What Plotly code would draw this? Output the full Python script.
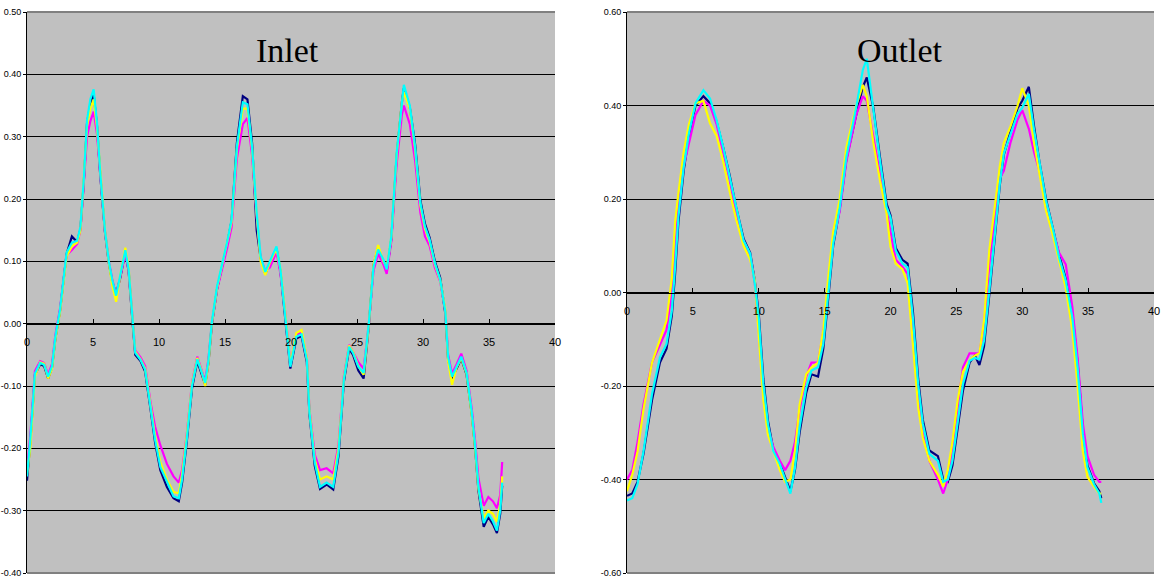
import plotly.graph_objects as go

# ---------------- Inlet data ----------------
IN_X = [0, 0.25, 0.6, 1.0, 1.3, 1.6, 1.9, 2.15, 2.5, 3.0,
        3.4, 3.8, 4.05, 4.3, 4.55, 4.8, 5.05, 5.3, 5.55, 5.9,
        6.2, 6.45, 6.75, 7.05, 7.45, 7.7, 7.95, 8.2, 8.6, 8.95,
        9.35, 9.7, 10.1, 10.6, 11.1, 11.5, 11.75, 12.1, 12.5, 12.9,
        13.25, 13.5, 13.75, 14.0, 14.4, 14.75, 15.15, 15.5, 15.9, 16.35,
        16.7, 17.05, 17.4, 17.7, 18.05, 18.4, 18.9, 19.2, 19.55, 19.95,
        20.4, 20.8, 21.2, 21.4, 21.8, 22.2, 22.7, 23.2, 23.6, 24.0,
        24.4, 24.7, 25.1, 25.5, 25.9, 26.25, 26.6, 27.0, 27.25, 27.6,
        28.0, 28.4, 28.55, 29.0, 29.4, 29.8, 30.15, 30.5, 30.9, 31.3,
        31.7, 31.9, 32.2, 32.55, 32.9, 33.3, 33.7, 33.95, 34.2, 34.6,
        34.95, 35.3, 35.6, 35.85, 36.0]

IN_NAVY = [-0.252, -0.190, -0.082, -0.065, -0.068, -0.088, -0.070, -0.024, 0.020, 0.112,
           0.140, 0.131, 0.152, 0.226, 0.322, 0.352, 0.368, 0.318, 0.238, 0.148,
           0.097, 0.068, 0.048, 0.072, 0.115, 0.084, 0.015, -0.050, -0.060, -0.077,
           -0.136, -0.190, -0.235, -0.262, -0.280, -0.285, -0.255, -0.190, -0.104, -0.060,
           -0.082, -0.098, -0.062, -0.002, 0.056, 0.088, 0.127, 0.165, 0.290, 0.365,
           0.360, 0.290, 0.150, 0.105, 0.080, 0.097, 0.121, 0.084, 0.015, -0.072,
           -0.024, -0.020, -0.062, -0.146, -0.228, -0.265, -0.258, -0.266, -0.212, -0.094,
           -0.040, -0.050, -0.075, -0.088, -0.002, 0.094, 0.122, 0.100, 0.084, 0.136,
           0.268, 0.355, 0.378, 0.347, 0.288, 0.198, 0.160, 0.138, 0.100, 0.074,
           0.015, -0.057, -0.088, -0.072, -0.056, -0.082, -0.146, -0.200, -0.268, -0.326,
           -0.310, -0.322, -0.336, -0.305, -0.260]

IN_MAGENTA = [-0.235, -0.180, -0.076, -0.060, -0.063, -0.082, -0.064, -0.018, 0.024, 0.110,
              0.118, 0.128, 0.150, 0.220, 0.300, 0.325, 0.340, 0.305, 0.235, 0.150,
              0.100, 0.072, 0.045, 0.074, 0.112, 0.086, 0.020, -0.043, -0.054, -0.068,
              -0.125, -0.165, -0.195, -0.225, -0.245, -0.255, -0.235, -0.178, -0.095, -0.053,
              -0.076, -0.092, -0.056, 0.000, 0.055, 0.085, 0.120, 0.155, 0.265, 0.320,
              0.330, 0.270, 0.172, 0.105, 0.085, 0.090, 0.115, 0.080, 0.020, -0.065,
              -0.018, -0.015, -0.055, -0.138, -0.210, -0.235, -0.232, -0.240, -0.195, -0.085,
              -0.034, -0.045, -0.062, -0.072, 0.000, 0.085, 0.112, 0.095, 0.080, 0.132,
              0.255, 0.335, 0.350, 0.320, 0.262, 0.178, 0.140, 0.125, 0.090, 0.068,
              0.020, -0.050, -0.080, -0.065, -0.048, -0.075, -0.138, -0.188, -0.248, -0.292,
              -0.278, -0.285, -0.296, -0.275, -0.222]

IN_YELLOW = [-0.240, -0.200, -0.085, -0.062, -0.064, -0.088, -0.072, -0.025, 0.018, 0.108,
             0.124, 0.130, 0.150, 0.228, 0.318, 0.345, 0.360, 0.315, 0.240, 0.152,
             0.098, 0.062, 0.035, 0.076, 0.122, 0.090, 0.020, -0.045, -0.057, -0.072,
             -0.130, -0.180, -0.222, -0.250, -0.270, -0.272, -0.242, -0.180, -0.097, -0.055,
             -0.078, -0.100, -0.062, 0.000, 0.058, 0.090, 0.128, 0.163, 0.280, 0.345,
             0.345, 0.280, 0.175, 0.100, 0.078, 0.098, 0.120, 0.088, 0.020, -0.066,
             -0.015, -0.010, -0.055, -0.140, -0.218, -0.250, -0.245, -0.250, -0.200, -0.088,
             -0.035, -0.045, -0.068, -0.082, 0.000, 0.095, 0.126, 0.100, 0.090, 0.138,
             0.270, 0.355, 0.372, 0.345, 0.280, 0.190, 0.152, 0.132, 0.095, 0.070,
             0.022, -0.060, -0.098, -0.070, -0.055, -0.080, -0.148, -0.200, -0.265, -0.312,
             -0.300, -0.305, -0.318, -0.290, -0.245]

IN_CYAN = [-0.245, -0.186, -0.080, -0.063, -0.066, -0.085, -0.068, -0.021, 0.022, 0.114,
           0.130, 0.133, 0.156, 0.231, 0.327, 0.360, 0.376, 0.323, 0.242, 0.151,
           0.100, 0.071, 0.045, 0.075, 0.118, 0.087, 0.018, -0.047, -0.058, -0.074,
           -0.133, -0.186, -0.230, -0.255, -0.277, -0.280, -0.250, -0.186, -0.100, -0.057,
           -0.079, -0.095, -0.058, 0.002, 0.060, 0.091, 0.130, 0.167, 0.284, 0.355,
           0.352, 0.284, 0.178, 0.108, 0.083, 0.100, 0.124, 0.087, 0.018, -0.069,
           -0.021, -0.017, -0.058, -0.143, -0.223, -0.262, -0.255, -0.262, -0.207, -0.090,
           -0.037, -0.047, -0.069, -0.079, 0.002, 0.091, 0.119, 0.103, 0.087, 0.140,
           0.273, 0.360, 0.383, 0.350, 0.284, 0.194, 0.156, 0.135, 0.097, 0.071,
           0.018, -0.053, -0.085, -0.069, -0.053, -0.079, -0.143, -0.196, -0.262, -0.320,
           -0.305, -0.317, -0.332, -0.300, -0.255]

# ---------------- Outlet data ----------------
OUT_X = [0, 0.4, 0.8, 1.25, 1.9, 2.5, 3.0, 3.4, 3.65, 3.9,
         4.3, 4.7, 5.2, 5.8, 6.3, 6.8, 7.3, 7.8, 8.3, 8.85,
         9.35, 9.7, 10.0, 10.35, 10.7, 11.1, 11.6, 12.0, 12.4, 12.75,
         13.1, 13.6, 14.0, 14.5, 14.9, 15.3, 15.65, 16.15, 16.65, 17.4,
         17.9, 18.2, 18.7, 19.2, 19.7, 20.0, 20.4, 20.9, 21.3, 21.7,
         22.1, 22.45, 22.95, 23.6, 24.0, 24.35, 24.7, 25.1, 25.5, 26.0,
         26.4, 26.75, 27.1, 27.5, 27.9, 28.3, 28.6, 29.1, 29.65, 30.0,
         30.5, 30.9, 31.3, 31.8, 32.3, 32.8, 33.3, 33.8, 34.2, 34.6,
         34.95, 35.45, 35.85, 36.0]

OUT_NAVY = [-0.435, -0.430, -0.405, -0.345, -0.230, -0.150, -0.120, -0.050, 0.040, 0.150,
            0.260, 0.335, 0.400, 0.420, 0.405, 0.365, 0.310, 0.250, 0.180, 0.115,
            0.085, 0.025, -0.045, -0.185, -0.275, -0.335, -0.365, -0.395, -0.425, -0.380,
            -0.300, -0.215, -0.175, -0.180, -0.120, -0.005, 0.100, 0.180, 0.285, 0.380,
            0.440, 0.460, 0.395, 0.290, 0.190, 0.165, 0.095, 0.070, 0.062, -0.040,
            -0.185, -0.272, -0.338, -0.350, -0.400, -0.405, -0.370, -0.290, -0.210, -0.150,
            -0.135, -0.155, -0.115, -0.005, 0.120, 0.230, 0.295, 0.345, 0.395, 0.410,
            0.440, 0.355, 0.280, 0.200, 0.142, 0.080, 0.030, -0.045, -0.150, -0.295,
            -0.370, -0.408, -0.425, -0.440]

OUT_MAGENTA = [-0.400, -0.380, -0.320, -0.240, -0.150, -0.110, -0.080, 0.000, 0.100, 0.180,
               0.270, 0.320, 0.380, 0.410, 0.400, 0.360, 0.300, 0.240, 0.165, 0.110,
               0.080, 0.020, -0.080, -0.215, -0.290, -0.330, -0.360, -0.380, -0.360, -0.320,
               -0.250, -0.180, -0.150, -0.150, -0.085, 0.020, 0.110, 0.175, 0.280, 0.380,
               0.420, 0.410, 0.330, 0.250, 0.175, 0.130, 0.070, 0.055, 0.040, -0.080,
               -0.225, -0.300, -0.360, -0.400, -0.430, -0.400, -0.330, -0.240, -0.160, -0.130,
               -0.130, -0.130, -0.070, 0.060, 0.160, 0.245, 0.260, 0.320, 0.370, 0.390,
               0.350, 0.300, 0.260, 0.190, 0.135, 0.085, 0.060, -0.030, -0.140, -0.280,
               -0.350, -0.390, -0.405, -0.405]

OUT_YELLOW = [-0.425, -0.390, -0.340, -0.250, -0.150, -0.100, -0.060, 0.030, 0.150, 0.212,
              0.300, 0.360, 0.405, 0.410, 0.362, 0.335, 0.280, 0.215, 0.155, 0.100,
              0.070, 0.026, -0.090, -0.230, -0.305, -0.339, -0.380, -0.405, -0.400, -0.340,
              -0.240, -0.175, -0.160, -0.150, -0.080, 0.040, 0.130, 0.200, 0.310, 0.400,
              0.444, 0.420, 0.320, 0.240, 0.170, 0.098, 0.062, 0.050, 0.020, -0.110,
              -0.245, -0.310, -0.360, -0.390, -0.415, -0.380, -0.320, -0.230, -0.170, -0.145,
              -0.135, -0.130, -0.060, 0.090, 0.180, 0.270, 0.320, 0.355, 0.400, 0.437,
              0.400, 0.320, 0.255, 0.176, 0.125, 0.065, 0.010, -0.080, -0.200, -0.340,
              -0.395, -0.415, -0.430, -0.430]

OUT_CYAN = [-0.445, -0.440, -0.410, -0.340, -0.217, -0.139, -0.110, -0.040, 0.054, 0.161,
            0.268, 0.340, 0.405, 0.433, 0.415, 0.369, 0.311, 0.247, 0.176, 0.111,
            0.083, 0.019, -0.053, -0.195, -0.281, -0.339, -0.367, -0.397, -0.430, -0.375,
            -0.289, -0.204, -0.167, -0.160, -0.110, 0.004, 0.104, 0.182, 0.290, 0.397,
            0.476, 0.500, 0.390, 0.283, 0.183, 0.161, 0.090, 0.062, 0.054, -0.053,
            -0.196, -0.280, -0.345, -0.360, -0.405, -0.400, -0.360, -0.280, -0.196, -0.146,
            -0.140, -0.143, -0.103, 0.004, 0.126, 0.233, 0.297, 0.340, 0.383, 0.395,
            0.425, 0.347, 0.276, 0.197, 0.140, 0.075, 0.026, -0.053, -0.160, -0.303,
            -0.374, -0.410, -0.430, -0.450]

X_TICKS = [0, 5, 10, 15, 20, 25, 30, 35, 40]
X_TICKTEXT = ["0", "5", "10", "15", "20", "25", "30", "35", "40"]
IN_Y_TICKS = [-0.4, -0.3, -0.2, -0.1, 0.0, 0.1, 0.2, 0.3, 0.4, 0.5]
IN_Y_TICKTEXT = ["-0.40", "-0.30", "-0.20", "-0.10", "0.00", "0.10", "0.20", "0.30", "0.40", "0.50"]
OUT_Y_TICKS = [-0.6, -0.4, -0.2, 0.0, 0.2, 0.4, 0.6]
OUT_Y_TICKTEXT = ["-0.60", "-0.40", "-0.20", "0.00", "0.20", "0.40", "0.60"]

COLORS = {"navy": "#000080", "magenta": "#FF00FF", "yellow": "#FFFF00", "cyan": "#00FFFF"}

W, H = 1165, 579
fig = go.Figure()

series_in = [("navy", IN_NAVY), ("magenta", IN_MAGENTA), ("yellow", IN_YELLOW), ("cyan", IN_CYAN)]
series_out = [("navy", OUT_NAVY), ("magenta", OUT_MAGENTA), ("yellow", OUT_YELLOW), ("cyan", OUT_CYAN)]

for name, ys in series_in:
    fig.add_trace(go.Scatter(x=IN_X, y=ys, mode="lines", name=name,
                             line=dict(color=COLORS[name], width=2.2),
                             xaxis="x", yaxis="y", showlegend=False))
for name, ys in series_out:
    fig.add_trace(go.Scatter(x=OUT_X, y=ys, mode="lines", name=name,
                             line=dict(color=COLORS[name], width=2.2),
                             xaxis="x2", yaxis="y2", showlegend=False))

xtickfont = dict(family="Liberation Sans, Arial, sans-serif", size=11, color="black")
ytickfont = dict(family="Liberation Sans, Arial, sans-serif", size=9, color="black")

xcommon = dict(range=[0, 40], tickvals=X_TICKS, ticktext=X_TICKTEXT, ticks="inside",
               ticklen=5, tickcolor="black", showline=True, linecolor="black", linewidth=1,
               showgrid=False, zeroline=False, tickfont=xtickfont, anchor="free",
               ticklabelstandoff=8, automargin=False)
ycommon = dict(domain=[0, 1], ticks="outside", ticklen=3, tickcolor="black",
               showline=True, linecolor="black", linewidth=1, showgrid=True,
               gridcolor="black", gridwidth=1, zeroline=False, tickfont=ytickfont,
               automargin=False)

fig.update_layout(
    width=W, height=H,
    margin=dict(l=0, r=0, t=12, b=6, autoexpand=False),
    paper_bgcolor="white",
    plot_bgcolor="#C0C0C0",
    xaxis=dict(domain=[27 / W, 555 / W], position=0.4 / 0.9, **xcommon),
    yaxis=dict(range=[-0.4, 0.5], tickvals=IN_Y_TICKS, ticktext=IN_Y_TICKTEXT, anchor="x", **ycommon),
    xaxis2=dict(domain=[627 / W, 1154 / W], position=0.5, **xcommon),
    yaxis2=dict(range=[-0.6, 0.6], tickvals=OUT_Y_TICKS, ticktext=OUT_Y_TICKTEXT, anchor="x2", **ycommon),
    showlegend=False,
)

# gray plot-area borders at top and bottom
for xr, yr in (("x domain", "y domain"), ("x2 domain", "y2 domain")):
    for yv in (0, 1):
        fig.add_shape(type="line", xref=xr, yref=yr, x0=0, x1=1, y0=yv, y1=yv,
                      line=dict(color="#808080", width=2), layer="above")

title_font = dict(family="Liberation Serif, Times New Roman, serif", size=34, color="black")
fig.add_annotation(text="Inlet", x=287 / W, y=(573 - 50) / 561, xref="paper", yref="paper",
                   showarrow=False, font=title_font, xanchor="center", yanchor="middle")
fig.add_annotation(text="Outlet", x=900 / W, y=(573 - 50) / 561, xref="paper", yref="paper",
                   showarrow=False, font=title_font, xanchor="center", yanchor="middle")

fig.write_html("out.html")
